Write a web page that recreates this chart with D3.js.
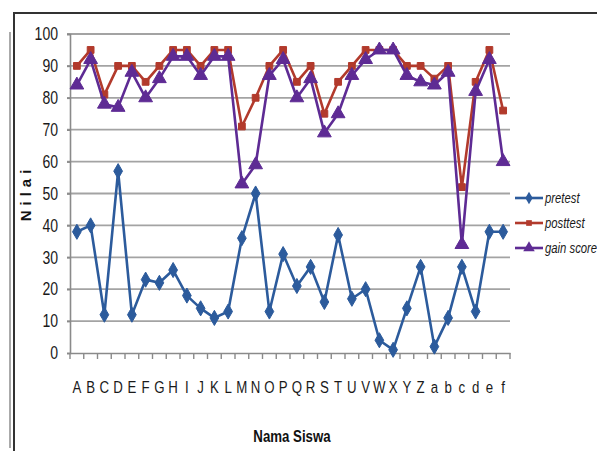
<!DOCTYPE html>
<html>
<head>
<meta charset="utf-8">
<script src="https://cdn.jsdelivr.net/npm/d3@7/dist/d3.min.js"></script>
<style>
  html, body { margin: 0; padding: 0; background: #fff; }
  svg { display: block; }
  text { font-family: "Liberation Sans", Arial, sans-serif; }
</style>
</head>
<body>
<svg id="chart" width="597" height="451"></svg>
<script>
// Student labels (x axis)
const students = ["A","B","C","D","E","F","G","H","I","J","K","L","M","N","O","P","Q","R","S","T","U","V","W","X","Y","Z","a","b","c","d","e","f"];

// Scores per student
const pretest  = [38,40,12,57,12,23,22,26,18,14,11,13,36,50,13,31,21,27,16,37,17,20,4,1,14,27,2,11,27,13,38,38];
const posttest = [90,95,81,90,90,85,90,95,95,90,95,95,71,80,90,95,85,90,75,85,90,95,95,95,90,90,86,90,52,85,95,76];
const gainScore = [84,92,78,77,88,80,86,93,93,87,93,93,53,59,87,92,80,86,69,75,87,92,95,95,87,85,84,88,34,82,92,60];

const yTicks = [0,10,20,30,40,50,60,70,80,90,100];

const seriesNames = ["pretest","posttest","gain score"];
const seriesColors = ["#2c5b9c","#b23a2c","#5e2b94"];
const seriesSymbols = [d3.symbolDiamond, d3.symbolSquare, d3.symbolTriangle];
const seriesSizes = [66, 46, 82];

// Horizontal squeeze applied to all text for a condensed look
const SQ = 0.78;
function squeeze(sel) {
  sel.each(function () {
    const t = d3.select(this);
    const x0 = +t.attr("x") || 0;
    t.attr("x", x0 / SQ).attr("transform", `scale(${SQ},1)`);
  });
}

const svg = d3.select("#chart");
const W = 597, H = 451;
const plot = { left: 70, right: 510, top: 34, bottom: 353 };

// Outer frame lines
svg.append("line").attr("x1", 14).attr("x2", W).attr("y1", 13).attr("y2", 13)
  .attr("stroke", "#333").attr("stroke-width", 2);
svg.append("line").attr("x1", 14).attr("x2", 14).attr("y1", 12).attr("y2", H)
  .attr("stroke", "#333").attr("stroke-width", 2);
svg.append("line").attr("x1", 10).attr("x2", 10).attr("y1", 32).attr("y2", 448)
  .attr("stroke", "#555").attr("stroke-width", 1);

const x = d3.scaleBand().domain(students).range([plot.left, plot.right]).padding(0);
const y = d3.scaleLinear().domain([0, 100]).range([plot.bottom, plot.top]);

// Horizontal gridlines
svg.append("g")
  .selectAll("line")
  .data(yTicks.filter(v => v > 0))
  .join("line")
  .attr("x1", plot.left - 3).attr("x2", plot.right)
  .attr("y1", d => y(d)).attr("y2", d => y(d))
  .attr("stroke", "#a3a3a3").attr("stroke-width", 1.8);

// Y axis
const yAxis = svg.append("g").attr("transform", `translate(${plot.left},0)`)
  .call(d3.axisLeft(y).tickValues(yTicks).tickSize(3).tickPadding(9));
yAxis.select(".domain").attr("stroke", "#8a8a8a").attr("stroke-width", 1.6);
yAxis.selectAll(".tick line").attr("stroke", "#8a8a8a").attr("stroke-width", 1.6);
yAxis.selectAll(".tick text").attr("font-size", 18).attr("fill", "#1a1a1a")
  .attr("font-family", "'Liberation Sans', Arial, sans-serif").call(squeeze);

// X axis with tick marks on category boundaries
const xAxis = svg.append("g").attr("transform", `translate(0,${plot.bottom})`)
  .call(d3.axisBottom(x).tickSize(0).tickPadding(28));
xAxis.select(".domain").attr("stroke", "#8a8a8a").attr("stroke-width", 1.6);
xAxis.selectAll(".tick text").attr("font-size", 17).attr("fill", "#1a1a1a")
  .attr("font-family", "'Liberation Sans', Arial, sans-serif").call(squeeze);
svg.append("g").selectAll("line")
  .data(d3.range(students.length + 1))
  .join("line")
  .attr("x1", i => plot.left + i * x.step()).attr("x2", i => plot.left + i * x.step())
  .attr("y1", plot.bottom).attr("y2", plot.bottom + 6)
  .attr("stroke", "#8a8a8a").attr("stroke-width", 1.4);

// Axis titles
svg.append("text")
  .attr("x", (plot.left + plot.right) / 2 + 2).attr("y", 442)
  .attr("text-anchor", "middle").attr("font-size", 17).attr("font-weight", "bold")
  .attr("fill", "#111").text("Nama Siswa").call(squeeze);
svg.append("text")
  .attr("transform", "translate(31,193) rotate(-90)")
  .attr("text-anchor", "middle").attr("font-size", 15).attr("font-weight", "bold")
  .attr("letter-spacing", 5).attr("fill", "#111").text("Nilai");

// Series lines and markers
const allSeries = [pretest, posttest, gainScore];
const line = d3.line().x((d, i) => x(students[i]) + x.bandwidth() / 2).y(d => y(d));

allSeries.forEach((vals, s) => {
  const g = svg.append("g");
  g.append("path").datum(vals).attr("d", line)
    .attr("fill", "none").attr("stroke", seriesColors[s]).attr("stroke-width", 2.6)
    .attr("stroke-linejoin", "round");
  g.selectAll("path.mark").data(vals).join("path").attr("class", "mark")
    .attr("transform", (d, i) => `translate(${x(students[i]) + x.bandwidth() / 2},${y(d)})`)
    .attr("d", d3.symbol().type(seriesSymbols[s]).size(seriesSizes[s]))
    .attr("fill", seriesColors[s]).attr("stroke", seriesColors[s]).attr("stroke-width", 1);
});

// Legend
const legend = svg.append("g");
seriesNames.forEach((name, s) => {
  const ly = 198 + s * 25;
  legend.append("line").attr("x1", 515).attr("x2", 543).attr("y1", ly).attr("y2", ly)
    .attr("stroke", seriesColors[s]).attr("stroke-width", 2.6);
  legend.append("path").attr("transform", `translate(529,${ly})`)
    .attr("d", d3.symbol().type(seriesSymbols[s]).size(seriesSizes[s] * 0.7))
    .attr("fill", seriesColors[s]);
  legend.append("text")
    .attr("x", 545).attr("y", ly + 5)
    .attr("font-size", 14.5).attr("font-style", "italic").attr("fill", "#1a1a1a")
    .text(name).call(squeeze);
});
</script>
</body>
</html>
